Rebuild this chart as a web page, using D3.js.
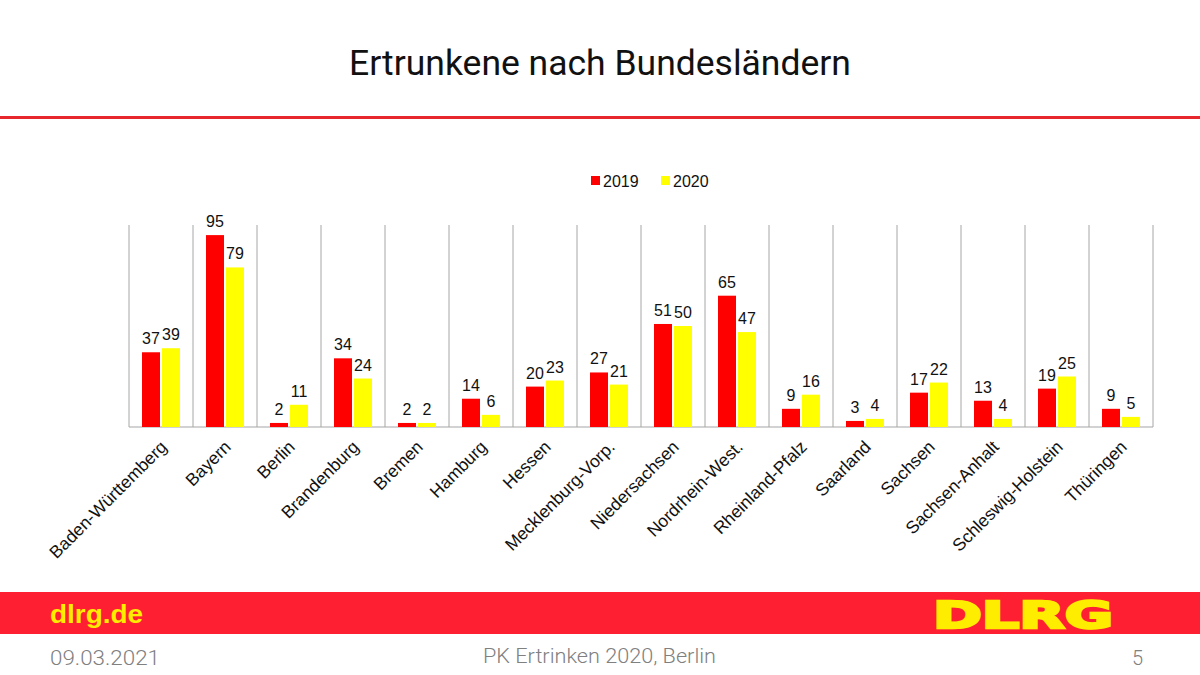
<!DOCTYPE html>
<html>
<head>
<meta charset="utf-8">
<script src="https://cdn.jsdelivr.net/npm/d3@7"></script>
<style>
  body { margin: 0; background: #fff; }
  svg { display: block; font-family: "Liberation Sans", Arial, sans-serif; }
</style>
</head>
<body>
<div id="chart"></div>
<script>
// Data
const states = ["Baden-Württemberg", "Bayern", "Berlin", "Brandenburg", "Bremen", "Hamburg",
  "Hessen", "Mecklenburg-Vorp.", "Niedersachsen", "Nordrhein-West.", "Rheinland-Pfalz",
  "Saarland", "Sachsen", "Sachsen-Anhalt", "Schleswig-Holstein", "Thüringen"];
const years = ["2019", "2020"];
const values2019 = [37, 95, 2, 34, 2, 14, 20, 27, 51, 65, 9, 3, 17, 13, 19, 9];
const values2020 = [39, 79, 11, 24, 2, 6, 23, 21, 50, 47, 16, 4, 22, 4, 25, 5];

(() => {
  const width = 1200, height = 675;
  const colors = {"2019": "#ff0000", "2020": "#ffff00"};
  const plot = {left: 129, right: 1153, top: 225, bottom: 427};

  const svg = d3.select("#chart").append("svg")
    .attr("width", width)
    .attr("height", height);

  // Title + red rule
  svg.append("text")
    .text("Ertrunkene nach Bundesländern")
    .attr("x", 600).attr("y", 75)
    .attr("text-anchor", "middle")
    .style("font-family", "Roboto, 'Liberation Sans', sans-serif")
    .style("font-size", "35.5px")
    .attr("fill", "#111");
  svg.append("rect")
    .attr("x", 0).attr("y", 116).attr("width", width).attr("height", 3)
    .attr("fill", "#e8262e");

  const data = states.map((s, i) => ({state: s, "2019": values2019[i], "2020": values2020[i]}));

  const x = d3.scaleBand().domain(states).range([plot.left, plot.right]);
  const xInner = d3.scaleBand().domain(years).range([13, 51]).paddingInner(0.1);
  const y = d3.scaleLinear().domain([0, 100]).range([plot.bottom, plot.top]);

  // Category separators
  svg.append("g").selectAll("line")
    .data(states.concat(["end"]))
    .join("line")
    .attr("x1", (d, i) => plot.left + i * x.bandwidth())
    .attr("x2", (d, i) => plot.left + i * x.bandwidth())
    .attr("y1", y(100)).attr("y2", y(0))
    .attr("stroke", "#a6a6a6").attr("stroke-width", 1);

  // Baseline
  svg.append("line")
    .attr("x1", plot.left).attr("x2", plot.right)
    .attr("y1", y(0)).attr("y2", y(0))
    .attr("stroke", "#a6a6a6").attr("stroke-width", 1.2);

  // Bars
  const groups = svg.append("g").selectAll("g")
    .data(data)
    .join("g")
    .attr("transform", d => `translate(${x(d.state)},0)`);

  groups.selectAll("rect")
    .data(d => years.map(yr => ({year: yr, value: d[yr]})))
    .join("rect")
    .attr("x", d => xInner(d.year))
    .attr("y", d => y(d.value))
    .attr("width", xInner.bandwidth())
    .attr("height", d => y(0) - y(d.value))
    .attr("fill", d => colors[d.year]);

  groups.selectAll("text.val")
    .data(d => years.map(yr => ({year: yr, value: d[yr]})))
    .join("text")
    .attr("class", "val")
    .text(d => d.value)
    .attr("x", d => xInner(d.year) + xInner.bandwidth() / 2)
    .attr("y", d => y(d.value) - 8)
    .attr("text-anchor", "middle")
    .style("font-size", "16px")
    .attr("fill", "#111");

  // Rotated category labels
  svg.append("g").selectAll("text")
    .data(states)
    .join("text")
    .text(d => d)
    .attr("text-anchor", "end")
    .attr("transform", d => `translate(${x(d) + x.bandwidth() / 2 + 7},${plot.bottom + 21}) rotate(-45)`)
    .style("font-size", "17.5px")
    .attr("fill", "#111");

  // Legend
  const legend = svg.append("g").attr("transform", "translate(591,176)");
  years.forEach((yr, i) => {
    const g = legend.append("g").attr("transform", `translate(${i * 70},0)`);
    g.append("rect").attr("width", 9).attr("height", 9).attr("fill", colors[yr]);
    g.append("text").text(yr).attr("x", 12).attr("y", 10.5)
      .style("font-size", "16px").attr("fill", "#111");
  });

  // Footer banner
  svg.append("rect")
    .attr("x", 0).attr("y", 592).attr("width", width).attr("height", 42)
    .attr("fill", "#fe2032");
  svg.append("text")
    .text("dlrg.de")
    .attr("x", 50).attr("y", 623)
    .attr("textLength", 93).attr("lengthAdjust", "spacingAndGlyphs")
    .style("font-size", "26px").style("font-weight", "bold")
    .attr("fill", "#ffed00");
  svg.append("text")
    .text("DLRG")
    .attr("x", 933).attr("y", 628)
    .attr("textLength", 180).attr("lengthAdjust", "spacingAndGlyphs")
    .style("font-family", "'DejaVu Sans', sans-serif")
    .style("font-size", "38px").style("font-weight", "bold")
    .attr("fill", "#ffed00")
    .attr("stroke", "#ffed00").attr("stroke-width", 2.5);

  const foot = svg.append("g")
    .style("font-family", "Roboto, 'Liberation Sans', sans-serif")
    .style("font-size", "20px").style("font-weight", 300)
    .attr("fill", "#808080");
  foot.append("text").text("09.03.2021").attr("x", 50).attr("y", 665)
    .attr("textLength", 110).attr("lengthAdjust", "spacingAndGlyphs");
  foot.append("text").text("PK Ertrinken 2020, Berlin").attr("x", 483).attr("y", 663)
    .attr("textLength", 233).attr("lengthAdjust", "spacingAndGlyphs");
  foot.append("text").text("5").attr("x", 1143).attr("y", 665).attr("text-anchor", "end");
})();
</script>
</body>
</html>
